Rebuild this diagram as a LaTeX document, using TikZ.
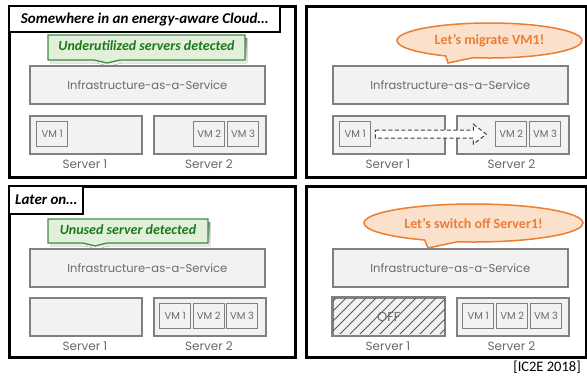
\documentclass[tikz,border=0pt]{standalone}
\usepackage{fontspec}
\setmainfont{Carlito}
\newfontfamily\geo{Poppins}
\usetikzlibrary{shapes.callouts}
\definecolor{boxfill}{HTML}{F2F2F2}
\definecolor{boxline}{HTML}{808080}
\definecolor{txtgray}{HTML}{6A6A6A}
\definecolor{gfill}{HTML}{E2EFDA}
\definecolor{gline}{HTML}{3E8E3E}
\definecolor{gtext}{HTML}{1A7A1A}
\definecolor{ofill}{HTML}{FBE0CC}
\definecolor{oline}{HTML}{ED7D31}
\definecolor{shade}{HTML}{BEBEBE}
\tikzset{
  panel/.style={draw=black, line width=2.5pt, fill=white, inner sep=0pt, anchor=north west},
  pshadow/.style={fill=shade, inner sep=0pt, anchor=north west},
  titlebox/.style={draw=black, line width=2.2pt, fill=white, inner sep=0pt, anchor=north west,
    font=\fontsize{15}{17}\selectfont\bfseries\itshape},
  iaas/.style={draw=boxline, line width=1.6pt, fill=boxfill, inner sep=0pt, anchor=north west,
    minimum width=235pt, minimum height=38pt, text=txtgray, font=\geo\fontsize{11.5}{13}\selectfont},
  srv/.style={draw=boxline, line width=1.6pt, fill=boxfill, inner sep=0pt, anchor=north west,
    minimum width=112pt, minimum height=38pt, text=txtgray, font=\geo\fontsize{10.5}{12}\selectfont},
  vm/.style={draw=boxline, line width=1.3pt, fill=boxfill, inner sep=0pt, anchor=north west,
    minimum width=31pt, minimum height=25pt, text=txtgray, font=\geo\fontsize{10}{12}\selectfont},
  lbl/.style={text=txtgray, font=\geo\fontsize{12}{14}\selectfont, inner sep=0pt},
  gbox/.style={draw=gline, line width=1.3pt, fill=gfill},
  gtxt/.style={text=gtext, font=\fontsize{14}{16}\selectfont\bfseries\itshape, inner sep=0pt},
  obub/.style={ellipse callout, draw=oline, line width=1.5pt, fill=ofill, text=oline,
    font=\fontsize{14}{16}\selectfont\bfseries, inner sep=0pt, callout pointer arc=18},
  migr/.style={draw=black!75, line width=1pt, dash pattern=on 4pt off 2.5pt, fill=white},
  hatch/.style={draw=black!65, line width=0.8pt},
}
\begin{document}
\begin{tikzpicture}[x=1pt,y=-1pt]
\useasboundingbox (0,0) rectangle (587,376);
\fill[white] (0,0) rectangle (587,376);

% ---------- shadows ----------
\node[pshadow, minimum width=286pt, minimum height=171pt] (shA) at (10,7) {};
\node[pshadow, minimum width=280pt, minimum height=171pt] (shB) at (307,7) {};
\node[pshadow, minimum width=286pt, minimum height=171pt] (shC) at (10,187) {};
\node[pshadow, minimum width=280pt, minimum height=171pt] (shD) at (307,187) {};

% ---------- panel frames ----------
\node[panel, minimum width=286pt, minimum height=171pt] (pA) at (8,5) {};
\node[panel, minimum width=280pt, minimum height=171pt] (pB) at (305,5) {};
\node[panel, minimum width=286pt, minimum height=171pt] (pC) at (8,185) {};
\node[panel, minimum width=280pt, minimum height=171pt] (pD) at (305,185) {};

% ================= Panel A (top left) =================
\node[titlebox, minimum width=271pt, minimum height=26pt] (tA) at (8,5) {Somewhere in an energy-aware Cloud…};
\fill[shade] (50,38) -- (247,38) -- (247,63) -- (122,63) -- (109,66) -- (96,63) -- (50,63) -- cycle;
\draw[gbox] (48,35) -- (245,35) -- (245,60) -- (120,60) -- (107,63) -- (94,60) -- (48,60) -- cycle;
\node[gtxt] (gA) at (146.5,46) {Underutilized servers detected};
\node[iaas] (iA) at (29,65) {Infrastructure-as-a-Service};
\node[srv] (s1A) at (29,115) {};
\node[srv] (s2A) at (153,115) {};
\node[vm] (v1A) at (36,121) {VM 1};
\node[vm] (v2A) at (193,121) {VM 2};
\node[vm] (v3A) at (227,121) {VM 3};
\node[lbl] (l1A) at (85,164) {Server 1};
\node[lbl] (l2A) at (209,164) {Server 2};

% ================= Panel B (top right) =================
\node[obub, minimum width=185pt, minimum height=35pt, callout absolute pointer={(448,63)}] (bB) at (489.5,40.5) {Let’s migrate VM1!};
\node[iaas] (iB) at (332,65) {Infrastructure-as-a-Service};
\node[srv] (s1B) at (332,115) {};
\node[srv] (s2B) at (456,115) {};
\node[vm] (v1B) at (339,121) {VM 1};
\node[vm] (v2B) at (495,121) {VM 2};
\node[vm] (v3B) at (529,121) {VM 3};
\node[lbl] (l1B) at (388,164) {Server 1};
\node[lbl] (l2B) at (511.5,164) {Server 2};
\draw[migr] ([xshift=4pt]v1B.east) ++(0,-4) -- ++(98,0) -- ++(0,-6) -- ++(13,10) -- ++(-13,10) -- ++(0,-6) -- ++(-98,0) -- cycle;

% ================= Panel C (bottom left) =================
\node[titlebox, minimum width=74pt, minimum height=28pt] (tC) at (8,185) {Later on…};
\fill[shade] (50,222) -- (210,222) -- (210,246) -- (109,246) -- (97,249) -- (85,246) -- (50,246) -- cycle;
\draw[gbox] (48,219) -- (208,219) -- (208,243) -- (107,243) -- (95,246) -- (83,243) -- (48,243) -- cycle;
\node[gtxt] (gC) at (128,230) {Unused server detected};
\node[iaas] (iC) at (29,248) {Infrastructure-as-a-Service};
\node[srv] (s1C) at (29,297) {};
\node[srv] (s2C) at (153,297) {};
\node[vm] (v1C) at (159,303) {VM 1};
\node[vm] (v2C) at (192.5,303) {VM 2};
\node[vm] (v3C) at (226,303) {VM 3};
\node[lbl] (l1C) at (85,346) {Server 1};
\node[lbl] (l2C) at (209,346) {Server 2};

% ================= Panel D (bottom right) =================
\node[obub, minimum width=219pt, minimum height=38pt, callout absolute pointer={(428,248)}] (bD) at (473.5,223) {Let’s switch off Server1!};
\node[iaas] (iD) at (332,248) {Infrastructure-as-a-Service};
\node[srv] (s1D) at (332,297) {};
\begin{scope}
  \clip (s1D.north west) rectangle (s1D.south east);
  \foreach \k in {0,...,16} {
    \draw[hatch] (300+10*\k,334) -- ++(37,-37);
  }
\end{scope}
\draw[draw=boxline, line width=1.6pt] (s1D.north west) rectangle (s1D.south east);
\node[lbl, font=\geo\fontsize{13}{15}\selectfont] (offD) at (s1D.center) {OFF};
\node[srv] (s2D) at (456,297) {};
\node[vm] (v1D) at (462,303) {VM 1};
\node[vm] (v2D) at (496,303) {VM 2};
\node[vm] (v3D) at (530,303) {VM 3};
\node[lbl] (l1D) at (388,346) {Server 1};
\node[lbl] (l2D) at (511.5,346) {Server 2};

\node[font=\fontsize{14.5}{16}\selectfont, inner sep=0pt] (ref) at (547,367) {[IC2E 2018]};
\end{tikzpicture}
\end{document}
